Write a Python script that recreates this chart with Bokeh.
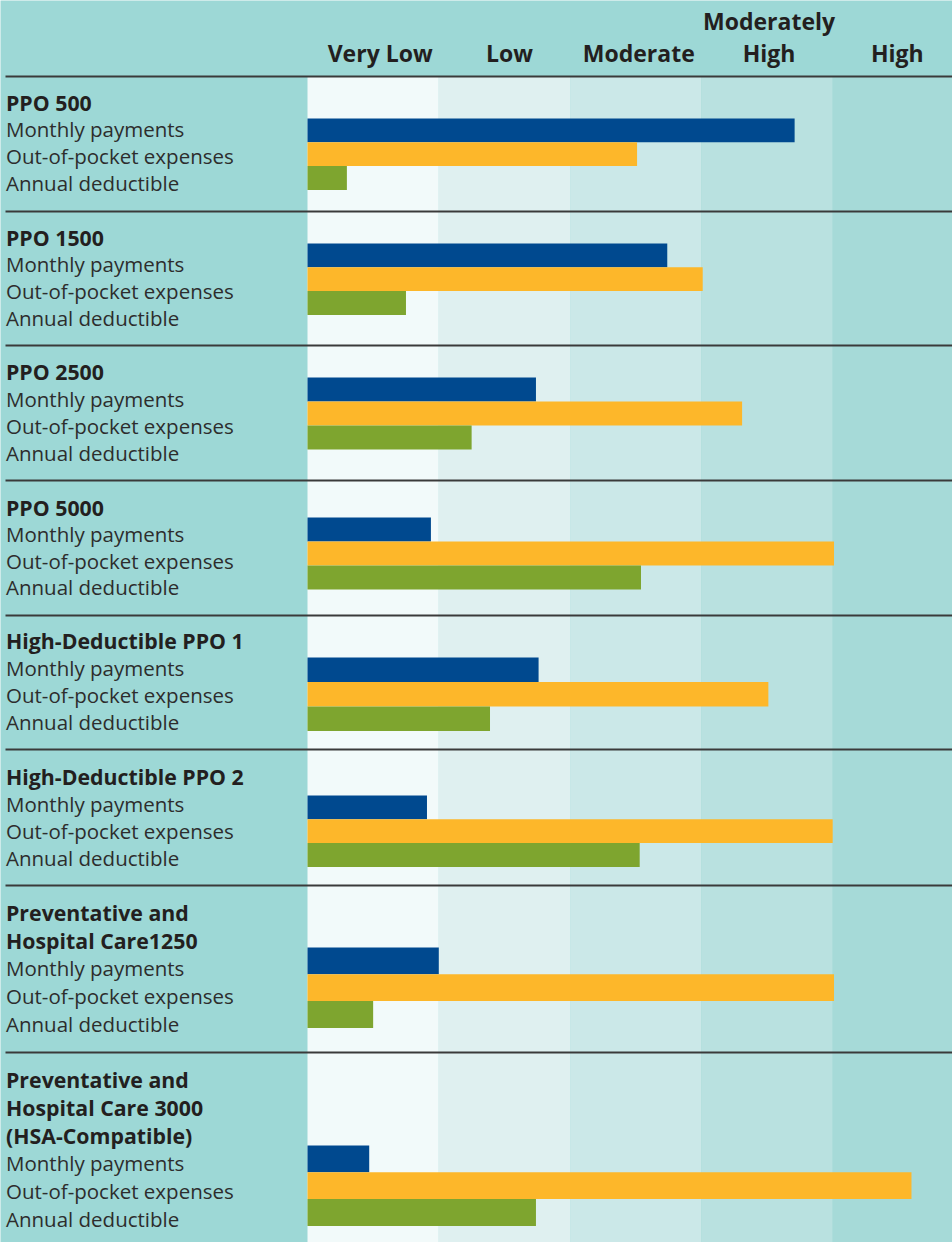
from bokeh.plotting import figure
from bokeh.models import Range1d
from bokeh.embed import file_html
from bokeh.resources import INLINE
from bokeh.core.properties import value

# ---------------- data ----------------
plans = [
    ["PPO 500"],
    ["PPO 1500"],
    ["PPO 2500"],
    ["PPO 5000"],
    ["High-Deductible PPO 1"],
    ["High-Deductible PPO 2"],
    ["Preventative and", "Hospital Care1250"],
    ["Preventative and", "Hospital Care 3000", "(HSA-Compatible)"],
]
measures = ["Monthly payments", "Out-of-pocket expenses", "Annual deductible"]
levels = [["Very Low"], ["Low"], ["Moderate"], ["Moderately", "High"], ["High"]]

monthly_payments = [3.71, 2.74, 1.74, 0.94, 1.76, 0.91, 1.00, 0.47]
out_of_pocket = [2.51, 3.01, 3.31, 4.01, 3.51, 4.00, 4.01, 4.60]
annual_deductible = [0.30, 0.75, 1.25, 2.54, 1.39, 2.53, 0.50, 1.74]

# ---------------- layout (reference pixel frame 952 x 1242) ----------------
REF_W, REF_H = 952, 1242
W, H = 952, 1242
S = W / REF_W
X0 = 307.0      # pixel where the scale starts
UNIT = 131.3    # pixels per rating band


def px(x):
    return (x - X0) / UNIT


rules_y = [76, 211, 345, 480, 615, 749, 885, 1052]
bar_top = [118, 243, 377, 517, 657, 795, 947, 1145]
bar_h = [23.8, 23.8, 24, 24, 24.5, 23.8, 26.8, 26.8]
title_y = [102, 237, 371, 507, 640, 776, 912, 1079]
line_step = [26.8, 26.8, 27.0, 26.5, 27.0, 27.0, 27.8, 27.9]
header_dx = [7, 5, 3, 2, -1]

TEAL = "#9dd8d6"
band_colors = ["#f2fafa", "#dff0f0", "#cbe8e8", "#b9e1e0", "#a6dad8"]
series_colors = ["#00498f", "#fdb72a", "#7ea52f"]
TEXT = "#231f20"
RULE = "#3a3a3a"
FONT = value("Open Sans")

p = figure(width=W, height=H,
           x_range=Range1d(px(0), px(REF_W)), y_range=Range1d(REF_H, 0),
           output_backend="svg", toolbar_location=None,
           x_axis_location=None, y_axis_location=None,
           min_border=0, background_fill_color=TEAL, border_fill_color=TEAL,
           outline_line_color=None)
p.grid.visible = False

# rating bands
nb = len(levels)
p.quad(left=list(range(nb)), right=[i + 1 for i in range(nb)],
       top=[rules_y[0]] * nb, bottom=[REF_H] * nb,
       fill_color=band_colors, line_color=None)

# bars
series = [monthly_payments, out_of_pocket, annual_deductible]
for k, vals in enumerate(series):
    ys = [bar_top[i] + bar_h[i] * (k + 0.5) for i in range(len(plans))]
    p.hbar(y=ys, height=bar_h, left=0, right=vals,
           fill_color=series_colors[k], line_color=None)

# rules
p.segment(x0=[px(5)] * len(rules_y), y0=rules_y,
          x1=[px(REF_W)] * len(rules_y), y1=rules_y,
          line_color=RULE, line_width=2.2 * S)

# left labels
bold_x, bold_y, bold_t = [], [], []
reg_x, reg_y, reg_t = [], [], []
for i, lines in enumerate(plans):
    y = title_y[i]
    for ln in lines:
        bold_x.append(px(5.5)); bold_y.append(y); bold_t.append(ln)
        y += line_step[i]
    for m in measures:
        reg_x.append(px(5.5)); reg_y.append(y); reg_t.append(m)
        y += line_step[i]

p.text(x=bold_x, y=bold_y, text=bold_t, text_font=FONT,
       text_font_size=f"{21.3 * S:.2f}px", text_font_style="bold",
       text_color=TEXT, text_baseline="middle", text_align="left")
p.text(x=reg_x, y=reg_y, text=reg_t, text_font=FONT,
       text_font_size=f"{20.5 * S:.2f}px", text_font_style="normal",
       text_color="#2d2d2d", text_baseline="middle", text_align="left")

# header labels
hx, hy, ht = [], [], []
for i, lines in enumerate(levels):
    base = 52 - 32 * (len(lines) - 1)
    for j, ln in enumerate(lines):
        hx.append(i + 0.5 + header_dx[i] / UNIT)
        hy.append(base + 32 * j)
        ht.append(ln)
p.text(x=hx, y=hy, text=ht, text_font=FONT,
       text_font_size=f"{23 * S:.2f}px", text_font_style="bold",
       text_color=TEXT, text_baseline="middle", text_align="center")

open("out.html", "w").write(file_html(p, INLINE))
